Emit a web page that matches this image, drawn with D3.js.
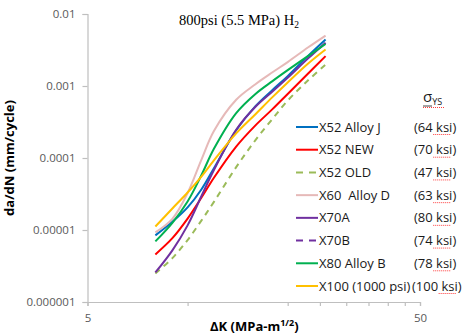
<!DOCTYPE html>
<html>
<head>
<meta charset="utf-8">
<script src="https://cdn.jsdelivr.net/npm/d3@7"></script>
<style>
  body { margin: 0; background: #fff; }
  svg { display: block; }
  text { white-space: pre; }
</style>
</head>
<body>
<svg id="chart"></svg>
<script>
const deltaK = [8, 9, 10, 11, 12, 14, 16, 18, 20, 23, 26];

const seriesNames = ["X52 Alloy J", "X52 NEW", "X52 OLD", "X60  Alloy D", "X70A", "X70B", "X80 Alloy B", "X100 (1000 psi)"];
const yieldLabels = ["(64 ksi)", "(70 ksi)", "(47 ksi)", "(63 ksi)", "(80 ksi)", "(74 ksi)", "(78 ksi)", "(100 ksi)"];

// da/dN (mm/cycle)
const x52AlloyJ = [8.42e-6, 1.30e-5, 2.06e-5, 3.65e-5, 7.22e-5, 2.43e-4, 5.25e-4, 8.82e-4, 1.37e-3, 2.60e-3, 4.42e-3];
const x52New    = [4.58e-6, 7.70e-6, 1.44e-5, 2.80e-5, 5.31e-5, 1.44e-4, 2.84e-4, 4.77e-4, 7.76e-4, 1.48e-3, 2.60e-3];
const x52Old    = [2.49e-6, 4.07e-6, 7.26e-6, 1.35e-5, 2.46e-5, 7.46e-5, 1.77e-4, 3.49e-4, 6.26e-4, 1.19e-3, 1.98e-3];
const x60AlloyD = [9.27e-6, 1.43e-5, 3.26e-5, 9.43e-5, 2.37e-4, 6.44e-4, 1.06e-3, 1.55e-3, 2.15e-3, 3.42e-3, 5.02e-3];
const x70A      = [2.57e-6, 5.22e-6, 1.16e-5, 2.94e-5, 6.82e-5, 2.47e-4, 5.15e-4, 8.40e-4, 1.30e-3, 2.40e-3, 4.00e-3];
const x70B      = [];
const x80AlloyB = [6.95e-6, 1.26e-5, 2.49e-5, 5.75e-5, 1.34e-4, 4.20e-4, 7.76e-4, 1.17e-3, 1.66e-3, 2.60e-3, 3.83e-3];
const x100      = [1.12e-5, 1.99e-5, 3.32e-5, 5.52e-5, 9.30e-5, 2.20e-4, 4.06e-4, 7.00e-4, 1.12e-3, 2.04e-3, 3.22e-3];

const yTicks = [0.01, 0.001, 0.0001, 0.00001, 0.000001];
const yTickLabels = ["0.01", "0.001", "0.0001", "0.00001", "0.000001"];
const xTicks = [5, 10, 20, 25, 30, 35, 40, 45, 50];
const xTickLabels = ["5", "", "", "", "", "", "", "", "50"];

const colors = ["#0070C0", "#FF0000", "#9BBB59", "#E6B9B8", "#7030A0", "#7030A0", "#00B050", "#FFC000"];
const dashes = [null, null, "6,5", null, null, "6,5", null, null];
const allData = [x52AlloyJ, x52New, x52Old, x60AlloyD, x70A, x70B, x80AlloyB, x100];

const width = 476, height = 336;
const svg = d3.select("#chart").attr("width", width).attr("height", height);

const x = d3.scaleLog().domain([5, 50]).range([87.5, 420]);
const y = d3.scaleLog().domain([1e-6, 1e-2]).range([302, 14]);

const axisColor = "#BFBFBF";
const tickFont = "'Open Sans', sans-serif";

// y axis
const yAxis = svg.append("g").attr("transform", "translate(87.5,0)")
  .call(d3.axisLeft(y).tickValues(yTicks).tickSize(5).tickPadding(7)
    .tickFormat((d, i) => yTickLabels[i]));
yAxis.select(".domain").attr("stroke", axisColor).attr("stroke-width", 1.2);
yAxis.selectAll(".tick line").attr("stroke", axisColor).attr("stroke-width", 1.2);
yAxis.selectAll(".tick text").attr("fill", "#595959")
  .style("font-family", tickFont).style("font-size", "11.5px");

// x axis
const xAxis = svg.append("g").attr("transform", "translate(0,302)")
  .call(d3.axisBottom(x).tickValues(xTicks).tickSize(4).tickPadding(8)
    .tickFormat((d, i) => xTickLabels[i]));
xAxis.select(".domain").attr("stroke", axisColor).attr("stroke-width", 1.2);
xAxis.selectAll(".tick line").attr("stroke", axisColor).attr("stroke-width", 1.2);
xAxis.selectAll(".tick text").attr("fill", "#595959")
  .style("font-family", tickFont).style("font-size", "11.5px");

// curves
const line = d3.line()
  .x(d => x(d[0]))
  .y(d => y(d[1]))
  .curve(d3.curveCatmullRom.alpha(0.5));

allData.forEach((vals, i) => {
  if (!vals.length) return;
  svg.append("path")
    .datum(vals.map((v, j) => [deltaK[j], v]))
    .attr("fill", "none")
    .attr("stroke", colors[i])
    .attr("stroke-width", 2)
    .attr("stroke-dasharray", dashes[i])
    .attr("d", line);
});

// title
const title = svg.append("text")
  .attr("x", 179).attr("y", 25)
  .style("font-family", "'Liberation Serif', 'Times New Roman', serif")
  .style("font-size", "14.5px")
  .attr("fill", "#000");
title.append("tspan").text("800psi (5.5 MPa) H");
title.append("tspan").attr("dy", 3).style("font-size", "9.5px").text("2");

// axis titles
svg.append("text")
  .attr("transform", "translate(14,158) rotate(-90)")
  .attr("text-anchor", "middle")
  .style("font-family", tickFont).style("font-size", "13px").style("font-weight", "bold")
  .attr("fill", "#000")
  .text("da/dN (mm/cycle)");

const xTitle = svg.append("text")
  .attr("x", 210).attr("y", 331)
  .style("font-family", tickFont).style("font-size", "13px").style("font-weight", "bold")
  .attr("fill", "#000");
xTitle.append("tspan").text("ΔK (MPa-m");
xTitle.append("tspan").attr("dy", -5).style("font-size", "9px").text("1/2");
xTitle.append("tspan").attr("dy", 5).text(")");

// legend
const legend = svg.append("g");
const rowY = d3.scaleLinear().domain([0, 7]).range([127, 286]);

seriesNames.forEach((name, i) => {
  const yy = rowY(i);
  legend.append("line")
    .attr("x1", 296).attr("x2", 318).attr("y1", yy).attr("y2", yy)
    .attr("stroke", colors[i]).attr("stroke-width", 2)
    .attr("stroke-dasharray", dashes[i] ? "7,6" : null);
  legend.append("text")
    .attr("x", 319).attr("y", yy + 4.5)
    .style("font-family", tickFont).style("font-size", "13px")
    .attr("fill", "#1a1a1a")
    .text(name);
  const kx = i === 7 ? 412 : 414;
  const kt = legend.append("text")
    .attr("x", kx).attr("y", yy + 4.5)
    .style("font-family", tickFont).style("font-size", "13px")
    .attr("fill", "#1a1a1a")
    .text(yieldLabels[i]);
  // spell-check squiggle under "ksi"
  const w = kt.node().getComputedTextLength();
  const x0 = kx + w - 23;
  legend.append("line")
    .attr("x1", x0).attr("x2", x0 + 17).attr("y1", yy + 7.5).attr("y2", yy + 7.5)
    .attr("stroke", "#FF3B3B").attr("stroke-width", 1)
    .attr("stroke-dasharray", "1,1");
});

// sigma_YS header
const sig = legend.append("text")
  .attr("x", 423).attr("y", 102)
  .style("font-family", tickFont).style("font-size", "15px")
  .attr("fill", "#1a1a1a");
sig.append("tspan").text("σ");
sig.append("tspan").attr("dy", 3).style("font-size", "9px").text("YS");
legend.append("line")
  .attr("x1", 423).attr("x2", 432).attr("y1", 106).attr("y2", 106)
  .attr("stroke", "#1a1a1a").attr("stroke-width", 0.8);
legend.append("line")
  .attr("x1", 423).attr("x2", 444).attr("y1", 107.5).attr("y2", 107.5)
  .attr("stroke", "#FF3B3B").attr("stroke-width", 1).attr("stroke-dasharray", "1,1");
</script>
</body>
</html>
